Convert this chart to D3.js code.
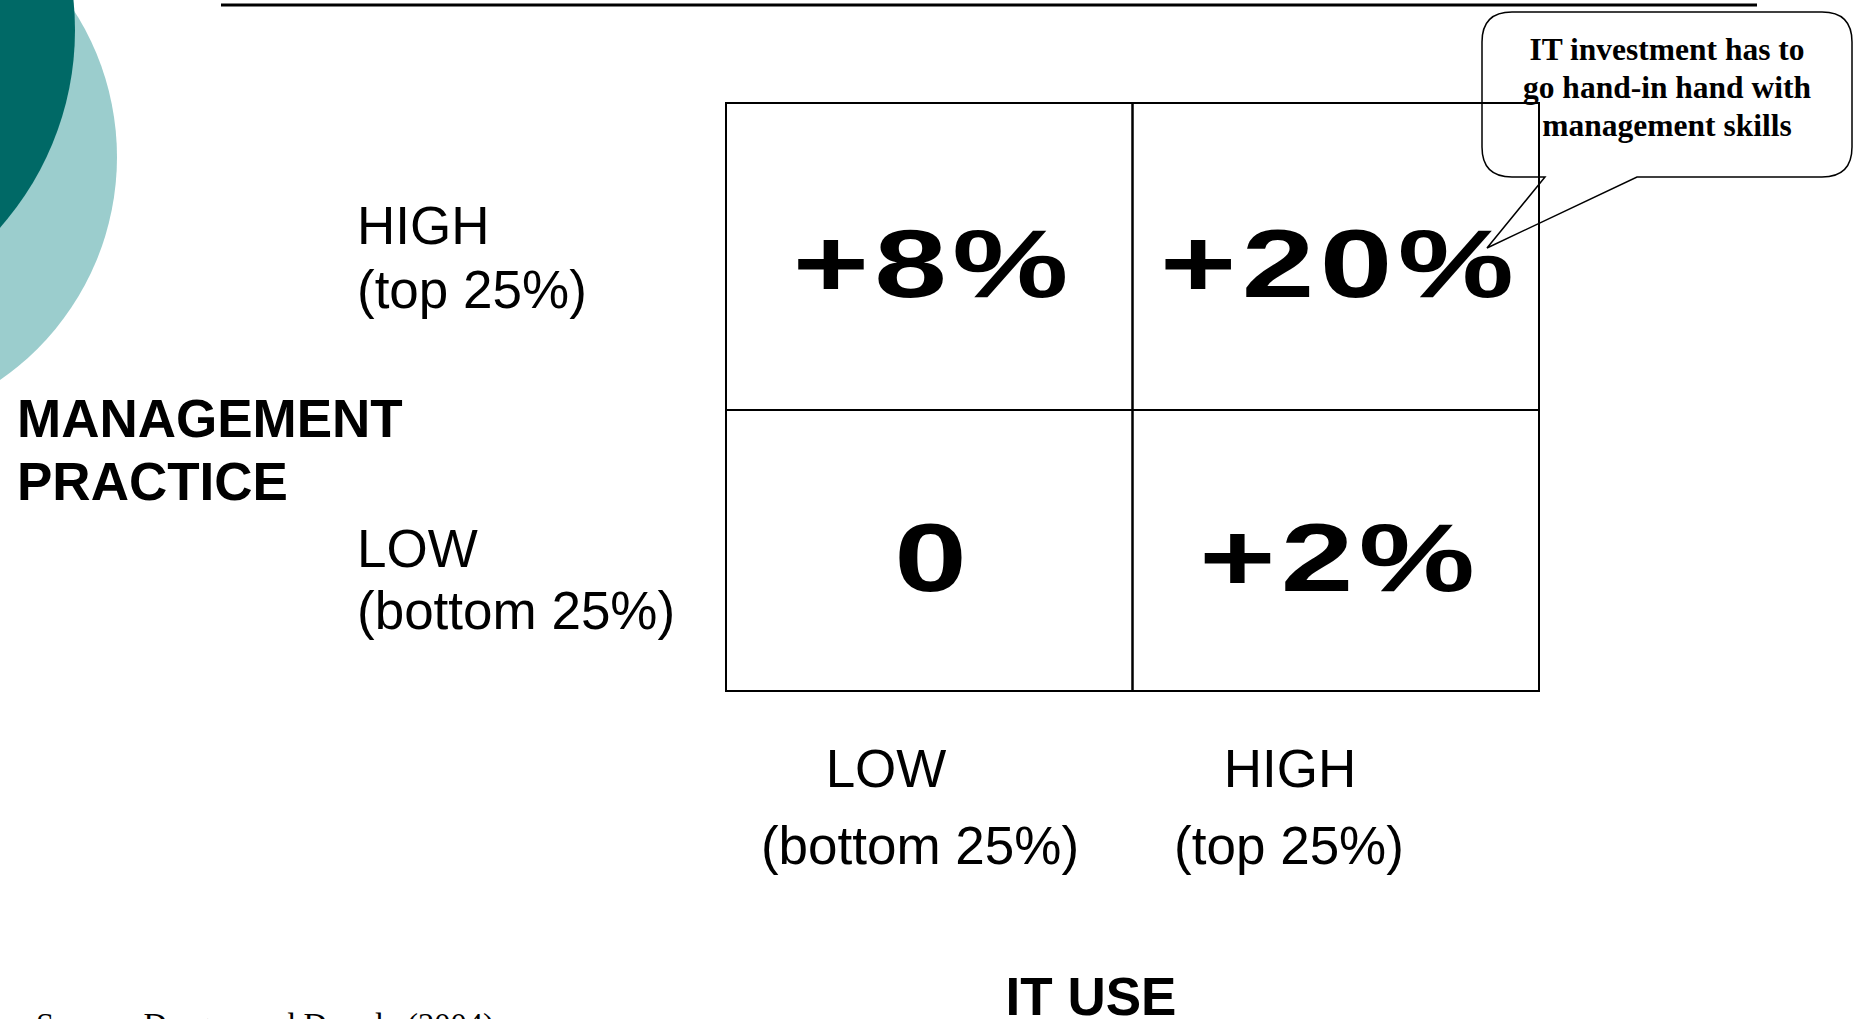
<!DOCTYPE html>
<html>
<head>
<meta charset="utf-8">
<script src="https://cdn.jsdelivr.net/npm/d3@7"></script>
<style>
  body { margin: 0; background: #fff; }
  svg { display: block; }
</style>
</head>
<body>
<div id="chart"></div>
<script>
// data
var itUse = ["LOW", "HIGH"];
var itUseSub = ["(bottom 25%)", "(top 25%)"];
var mgmt = ["HIGH", "LOW"];
var mgmtSub = ["(top 25%)", "(bottom 25%)"];
// productivity gain, row = management practice, col = IT use
var cellMgmt = ["HIGH", "HIGH", "LOW", "LOW"];
var cellIt = ["LOW", "HIGH", "LOW", "HIGH"];
var cellLabel = ["+8%", "+20%", "0", "+2%"];
var calloutLines = ["IT investment has to", "go hand-in hand with", "management skills"];
var sourceNote = "Source: Dorgan and Dowdy (2004)";

var W = 1856, H = 1019;

var svg = d3.select("#chart").append("svg")
  .attr("width", W)
  .attr("height", H);

// decorative circles, top left
svg.append("circle")
  .attr("cx", -154).attr("cy", 157).attr("r", 271)
  .style("fill", "#9bcdcd");
svg.append("circle")
  .attr("cx", -223).attr("cy", 30).attr("r", 298)
  .style("fill", "#006966");

// title rule
svg.append("line")
  .attr("x1", 221).attr("x2", 1757)
  .attr("y1", 5).attr("y2", 5)
  .style("stroke", "#000")
  .style("stroke-width", 3);

// scales for the 2x2 grid (rows are not the same height)
var x = d3.scaleBand().domain(itUse).range([726, 1539]);
var yTop = d3.scaleOrdinal().domain(mgmt).range([103, 410]);
var yBot = d3.scaleOrdinal().domain(mgmt).range([410, 691]);

var cells = cellLabel.map(function (v, i) {
  return { m: cellMgmt[i], it: cellIt[i], label: v };
});

svg.selectAll(".cell")
  .data(cells)
  .enter()
  .append("rect")
  .attr("class", "cell")
  .attr("x", function (d) { return x(d.it); })
  .attr("y", function (d) { return yTop(d.m); })
  .attr("width", x.bandwidth())
  .attr("height", function (d) { return yBot(d.m) - yTop(d.m); })
  .style("fill", "none")
  .style("stroke", "#000")
  .style("stroke-width", 2);

// big numbers (stretched wide like the slide)
svg.selectAll(".val")
  .data(cells)
  .enter()
  .append("text")
  .attr("class", "val")
  .attr("transform", function (d) {
    var cx = x(d.it) + x.bandwidth() / 2 + 4; // letter-spacing leaves a trailing gap
    var cy = (yTop(d.m) + yBot(d.m)) / 2 + 40;
    return "translate(" + cx + "," + cy + ") scale(1.36,1)";
  })
  .style("text-anchor", "middle")
  .style("font-family", "'Liberation Sans', Arial, sans-serif")
  .style("font-weight", "bold")
  .style("font-size", "96px")
  .style("letter-spacing", "4px")
  .text(function (d) { return d.label; });

var sans = "'Liberation Sans', Arial, sans-serif";

// row labels
var rowBase = { HIGH: [244, 308], LOW: [567, 629] };
mgmt.forEach(function (m, i) {
  svg.append("text")
    .attr("x", 357).attr("y", rowBase[m][0])
    .style("font-family", sans).style("font-size", "53px")
    .text(m);
  svg.append("text")
    .attr("x", 357).attr("y", rowBase[m][1])
    .style("font-family", sans).style("font-size", "53px")
    .text(mgmtSub[i]);
});

// axis title, left
svg.append("text")
  .attr("x", 17).attr("y", 437)
  .style("font-family", sans).style("font-size", "53px").style("font-weight", "bold")
  .text("MANAGEMENT");
svg.append("text")
  .attr("x", 17).attr("y", 500)
  .style("font-family", sans).style("font-size", "53px").style("font-weight", "bold")
  .text("PRACTICE");

// column labels
var colMid = { LOW: [886, 920], HIGH: [1290, 1289] };
itUse.forEach(function (c, i) {
  svg.append("text")
    .attr("x", colMid[c][0]).attr("y", 787)
    .style("text-anchor", "middle")
    .style("font-family", sans).style("font-size", "53px")
    .text(c);
  svg.append("text")
    .attr("x", colMid[c][1]).attr("y", 864)
    .style("text-anchor", "middle")
    .style("font-family", sans).style("font-size", "53px")
    .text(itUseSub[i]);
});

// axis title, bottom
svg.append("text")
  .attr("x", 1091).attr("y", 1015)
  .style("text-anchor", "middle")
  .style("font-family", sans).style("font-size", "53px").style("font-weight", "bold")
  .text("IT USE");

// source note (cut off by the bottom edge)
svg.append("text")
  .attr("x", 36).attr("y", 1035)
  .style("font-family", "'Liberation Serif', 'Times New Roman', serif")
  .style("font-size", "32.5px")
  .text(sourceNote);

// speech bubble callout
var bx0 = 1482, bx1 = 1852, by0 = 12, by1 = 177, r = 30;
var bubble = d3.path();
bubble.moveTo(1545, by1);
bubble.lineTo(bx0 + r, by1);
bubble.quadraticCurveTo(bx0, by1, bx0, by1 - r);
bubble.lineTo(bx0, by0 + r);
bubble.quadraticCurveTo(bx0, by0, bx0 + r, by0);
bubble.lineTo(bx1 - r, by0);
bubble.quadraticCurveTo(bx1, by0, bx1, by0 + r);
bubble.lineTo(bx1, by1 - r);
bubble.quadraticCurveTo(bx1, by1, bx1 - r, by1);
bubble.lineTo(1637, by1);
bubble.lineTo(1487, 248);
bubble.closePath();

svg.append("path")
  .attr("d", bubble.toString())
  .style("fill", "none")
  .style("stroke", "#000")
  .style("stroke-width", 1.5);

svg.selectAll(".callout")
  .data(calloutLines)
  .enter()
  .append("text")
  .attr("class", "callout")
  .attr("x", 1667)
  .attr("y", function (d, i) { return 60 + i * 38; })
  .style("text-anchor", "middle")
  .style("font-family", "'Liberation Serif', 'Times New Roman', serif")
  .style("font-weight", "bold")
  .style("font-size", "31.5px")
  .text(function (d) { return d; });
</script>
</body>
</html>
